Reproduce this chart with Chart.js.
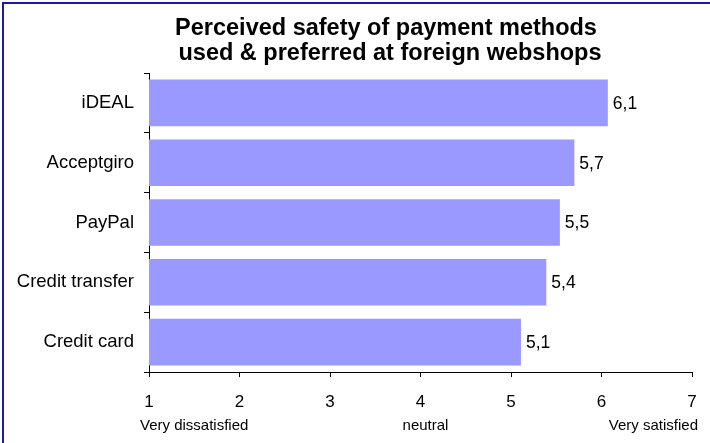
<!DOCTYPE html>
<html>
<head>
<meta charset="utf-8">
<script src="https://cdn.jsdelivr.net/npm/chart.js@4/dist/chart.umd.min.js"></script>
<style>
  html, body { margin: 0; padding: 0; background: #fff; }
  #wrap { position: relative; width: 710px; height: 443px; overflow: hidden; }
  #frame { position: absolute; left: 2px; top: 2px; width: 720px; height: 460px;
           border-left: 2px solid #1a1a9a; border-top: 2px solid #1a1a9a; box-sizing: border-box; pointer-events: none; }
  canvas { position: absolute; left: 0; top: 0; }
</style>
</head>
<body>
<div id="wrap">
  <canvas id="c" width="710" height="443"></canvas>
  <div id="frame"></div>
</div>
<script>
const categories = ["iDEAL", "Acceptgiro", "PayPal", "Credit transfer", "Credit card"];
const safetyScores = [6.07, 5.70, 5.54, 5.39, 5.11];
const xTickValues = [1, 2, 3, 4, 5, 6, 7];
const scaleLabels = ["Very dissatisfied", "neutral", "Very satisfied"];
const titleLines = ["Perceived safety of payment methods", "used & preferred at foreign webshops"];

const FONT = "'Liberation Sans', Arial, sans-serif";

const extrasPlugin = {
  id: 'extras',
  afterDraw(chart) {
    const ctx = chart.ctx;
    const xs = chart.scales.x;
    ctx.save();
    // title
    ctx.fillStyle = '#000';
    ctx.font = "bold 23.5px " + FONT;
    ctx.textAlign = 'center';
    ctx.textBaseline = 'alphabetic';
    ctx.fillText(titleLines[0], 386, 35);
    ctx.fillText(titleLines[1], 390, 60);
    // value labels
    const meta = chart.getDatasetMeta(0);
    ctx.font = "17.5px " + FONT;
    ctx.textAlign = 'left';
    ctx.textBaseline = 'middle';
    meta.data.forEach((bar, i) => {
      const v = chart.data.datasets[0].data[i];
      ctx.fillText(v.toFixed(1).replace('.', ','), bar.x + 5, bar.y + 1);
    });
    // scale description labels
    ctx.font = "15px " + FONT;
    ctx.textBaseline = 'alphabetic';
    const yb = 430;
    ctx.textAlign = 'left';
    ctx.fillText(scaleLabels[0], xs.getPixelForValue(1) - 9, yb);
    ctx.textAlign = 'center';
    ctx.fillText(scaleLabels[1], xs.getPixelForValue(4) + 5, yb);
    ctx.textAlign = 'right';
    ctx.fillText(scaleLabels[2], xs.getPixelForValue(7) + 6, yb);
    ctx.restore();
  }
};

new Chart(document.getElementById('c'), {
  type: 'bar',
  data: {
    labels: categories,
    datasets: [{
      data: safetyScores,
      backgroundColor: '#9999FF',
      borderWidth: 0,
      barPercentage: 0.78,
      categoryPercentage: 1.0
    }]
  },
  options: {
    indexAxis: 'y',
    responsive: false,
    animation: false,
    events: [],
    layout: { padding: { left: 0, right: 18, top: 73, bottom: 0 } },
    plugins: { legend: { display: false }, title: { display: false }, tooltip: { enabled: false } },
    scales: {
      x: {
        type: 'linear',
        min: 1, max: 7,
        afterBuildTicks(scale) { scale.ticks = xTickValues.map(v => ({ value: v })); },
        afterFit(scale) { scale.height = 71; scale.paddingLeft = 0; scale.paddingRight = 0; },
        grid: { drawOnChartArea: false, drawTicks: true, tickLength: 5, tickColor: '#000', tickWidth: 1 },
        border: { display: true, color: '#000', width: 1 },
        ticks: { color: '#000', font: { family: FONT, size: 17 }, padding: 15, maxRotation: 0 }
      },
      y: {
        afterFit(scale) { scale.width = 149; },
        grid: { drawOnChartArea: false, drawTicks: true, tickLength: 5, tickColor: '#000', tickWidth: 1, offset: true },
        border: { display: true, color: '#000', width: 1 },
        ticks: { color: '#000', font: { family: FONT, size: 18.5 }, padding: 10 }
      }
    }
  },
  plugins: [extrasPlugin]
});
</script>
</body>
</html>
